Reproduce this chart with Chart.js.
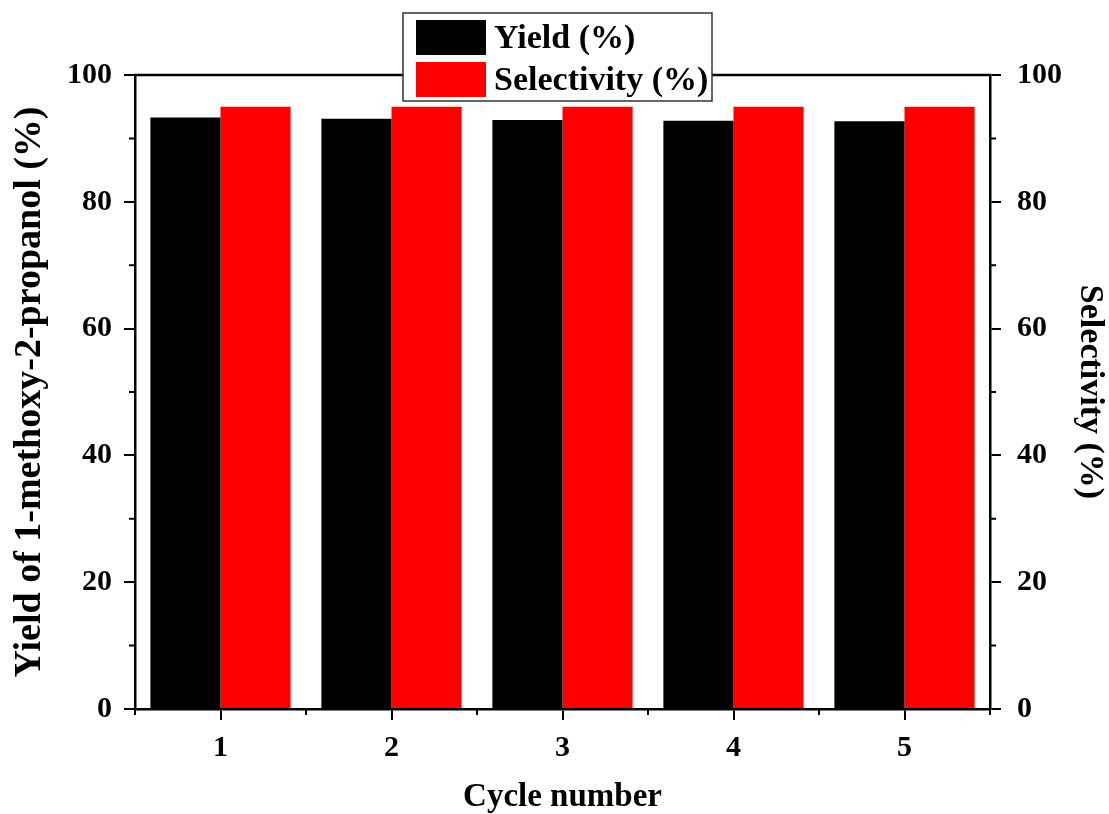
<!DOCTYPE html>
<html>
<head>
<meta charset="utf-8">
<script src="https://cdn.jsdelivr.net/npm/chart.js@4"></script>
<style>
  html, body { margin: 0; padding: 0; background: #fff; }
  canvas { display: block; }
</style>
</head>
<body>
<canvas id="cycleChart" width="1109" height="814"></canvas>
<script>
// values
const cycles = ['1', '2', '3', '4', '5'];
const yieldPct = [93.3, 93.1, 92.9, 92.8, 92.7];
const selectivityPct = [95.0, 95.0, 95.0, 95.0, 95.0];
const yTicks = [0, 20, 40, 60, 80, 100];
const yMinorTicks = [10, 30, 50, 70, 90];

const FONT = "'Liberation Serif', 'Times New Roman', serif";

// ── frame top line + minor ticks ──
const frameAndMinor = {
  id: 'frameAndMinor',
  afterDraw(chart) {
    const { ctx, chartArea: a, scales } = chart;
    ctx.save();
    ctx.strokeStyle = '#000';
    ctx.lineWidth = 2.5;
    ctx.beginPath();
    ctx.moveTo(a.left - 1, a.top);
    ctx.lineTo(a.right + 1, a.top);
    ctx.stroke();

    ctx.lineWidth = 2;
    ctx.beginPath();
    yMinorTicks.forEach(v => {
      const y = scales.y.getPixelForValue(v);
      ctx.moveTo(a.left, y); ctx.lineTo(a.left - 6, y);
      const y2 = scales.y2.getPixelForValue(v);
      ctx.moveTo(a.right, y2); ctx.lineTo(a.right + 6, y2);
    });
    for (let i = 0; i <= cycles.length; i++) {
      const x = scales.x.getPixelForValue(i - 0.5);
      ctx.moveTo(x, a.bottom); ctx.lineTo(x, a.bottom + 6);
    }
    ctx.stroke();
    ctx.restore();
  }
};

// ── boxed legend overlapping the top frame ──
const boxLegend = {
  id: 'boxLegend',
  afterDraw(chart) {
    const { ctx } = chart;
    const left = 403, top = 13, w = 309, h = 88;
    ctx.save();
    ctx.fillStyle = '#fff';
    ctx.fillRect(left, top, w, h);
    ctx.strokeStyle = '#333';
    ctx.lineWidth = 1.5;
    ctx.strokeRect(left, top, w, h);
    ctx.font = 'bold 34px ' + FONT;
    ctx.textBaseline = 'middle';
    ctx.textAlign = 'left';
    chart.data.datasets.forEach((ds, i) => {
      const sy = top + 7 + i * 42;
      ctx.fillStyle = ds.backgroundColor;
      ctx.fillRect(left + 13, sy, 70, 35);
      ctx.fillStyle = '#000';
      ctx.fillText(ds.label, left + 91, sy + 19);
    });
    ctx.restore();
  }
};

const tickFont = { family: FONT, size: 30, weight: 'bold' };
const axisGrid = {
  drawOnChartArea: false,
  drawTicks: true,
  tickLength: 11,
  tickWidth: 2,
  tickColor: '#000',
  lineWidth: 2,
  color: '#000',
};

new Chart(document.getElementById('cycleChart'), {
  type: 'bar',
  data: {
    labels: cycles,
    datasets: [
      {
        label: 'Yield (%)',
        data: yieldPct,
        backgroundColor: '#000000',
        yAxisID: 'y',
      },
      {
        label: 'Selectivity (%)',
        data: selectivityPct,
        backgroundColor: '#ff0000',
        yAxisID: 'y',
      },
    ],
  },
  options: {
    responsive: false,
    animation: false,
    datasets: { bar: { categoryPercentage: 0.82, barPercentage: 1.0 } },
    layout: { padding: { top: 75, left: 0, right: 0, bottom: 0 } },
    plugins: {
      legend: { display: false },
      tooltip: { enabled: false },
    },
    scales: {
      x: {
        type: 'category',
        offset: true,
        grid: { ...axisGrid, offset: false },
        border: { color: '#000', width: 2.5 },
        ticks: { color: '#000', font: tickFont, padding: 10, maxRotation: 0 },
        title: {
          display: true,
          text: 'Cycle number',
          color: '#000',
          font: { family: FONT, size: 33, weight: 'bold', lineHeight: 1 },
          padding: { top: 0, bottom: 0 },
        },
        afterFit: (s) => { s.height = 105; },
      },
      y: {
        position: 'left',
        min: 0,
        max: 100,
        afterBuildTicks: (s) => { s.ticks = yTicks.map(v => ({ value: v })); },
        grid: axisGrid,
        border: { color: '#000', width: 2.5 },
        ticks: { color: '#000', font: tickFont, padding: 12 },
        title: {
          display: true,
          text: 'Yield of 1-methoxy-2-propanol (%)',
          color: '#000',
          font: { family: FONT, size: 38, weight: 'bold', lineHeight: 1 },
          padding: { top: 11, bottom: 0 },
        },
        afterFit: (s) => { s.width = 135; },
      },
      y2: {
        position: 'right',
        display: true,
        min: 0,
        max: 100,
        afterBuildTicks: (s) => { s.ticks = yTicks.map(v => ({ value: v })); },
        grid: axisGrid,
        border: { color: '#000', width: 2.5 },
        ticks: { color: '#000', font: tickFont, padding: 16 },
        title: {
          display: true,
          text: 'Selectivity (%)',
          color: '#000',
          font: { family: FONT, size: 34, weight: 'bold', lineHeight: 1 },
          padding: { top: 2, bottom: 0 },
        },
        afterFit: (s) => { s.width = 119; },
      },
    },
  },
  plugins: [frameAndMinor, boxLegend],
});
</script>
</body>
</html>
